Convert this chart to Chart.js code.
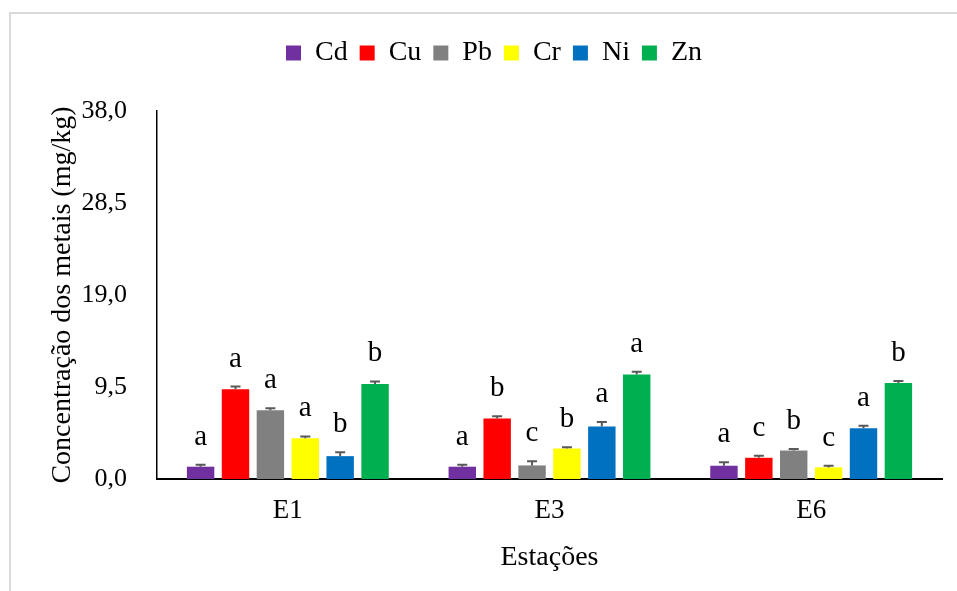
<!DOCTYPE html>
<html>
<head>
<meta charset="utf-8">
<script src="https://cdn.jsdelivr.net/npm/chart.js@4.4.0/dist/chart.umd.min.js"></script>
<style>
  body { margin: 0; background: #fff; overflow: hidden; }
  #frame { position: absolute; left: 9px; top: 12px; width: 1000px; height: 650px; border: 2px solid #d9d9d9; box-sizing: border-box; }
  #wrap { position: absolute; left: 0; top: 0; width: 957px; height: 591px; }
</style>
</head>
<body>
<div id="frame"></div>
<div id="wrap"><canvas id="myChart"></canvas></div>
<script>
const stations = ['E1', 'E3', 'E6'];
const metals = ['Cd', 'Cu', 'Pb', 'Cr', 'Ni', 'Zn'];
const colors = ['#7030A0', '#FF0000', '#808080', '#FFFF00', '#0070C0', '#00B050'];

// mean concentration per station (mg/kg)
const cd = [1.27, 1.27, 1.37];
const cu = [9.27, 6.25, 2.19];
const pb = [7.11, 1.40, 2.94];
const cr = [4.20, 3.15, 1.20];
const ni = [2.36, 5.43, 5.23];
const zn = [9.81, 10.80, 9.91];

// upper error (standard deviation)
const cdErr = [0.20, 0.20, 0.37];
const cuErr = [0.27, 0.24, 0.20];
const pbErr = [0.20, 0.44, 0.17];
const crErr = [0.20, 0.14, 0.17];
const niErr = [0.40, 0.45, 0.27];
const znErr = [0.27, 0.27, 0.20];

// significance letters
const cdLet = ['a', 'a', 'a'];
const cuLet = ['a', 'b', 'c'];
const pbLet = ['a', 'c', 'b'];
const crLet = ['a', 'b', 'c'];
const niLet = ['b', 'a', 'a'];
const znLet = ['b', 'a', 'b'];

const yTicks = [0, 9.5, 19, 28.5, 38];

const values = [cd, cu, pb, cr, ni, zn];
const errors = [cdErr, cuErr, pbErr, crErr, niErr, znErr];
const letters = [cdLet, cuLet, pbLet, crLet, niLet, znLet];

const serif = "'Liberation Serif', 'Times New Roman', serif";

const errorBars = {
  id: 'errorBars',
  afterDatasetsDraw(chart) {
    const ctx = chart.ctx;
    const y = chart.scales.y;
    ctx.save();
    ctx.strokeStyle = '#595959';
    ctx.lineWidth = 2;
    ctx.fillStyle = '#000';
    ctx.font = '29px ' + serif;
    ctx.textAlign = 'center';
    ctx.textBaseline = 'alphabetic';
    chart.data.datasets.forEach((ds, i) => {
      const meta = chart.getDatasetMeta(i);
      meta.data.forEach((bar, j) => {
        const top = y.getPixelForValue(ds.data[j]);
        const errTop = y.getPixelForValue(ds.data[j] + errors[i][j]);
        ctx.beginPath();
        ctx.moveTo(bar.x, top);
        ctx.lineTo(bar.x, errTop);
        ctx.moveTo(bar.x - 5, errTop);
        ctx.lineTo(bar.x + 5, errTop);
        ctx.stroke();
        ctx.fillText(letters[i][j], bar.x, errTop - 20);
      });
    });
    ctx.restore();
  }
};

const legendGap = {
  id: 'legendGap',
  beforeInit(chart) {
    const fit = chart.legend.fit;
    chart.legend.fit = function () {
      fit.bind(chart.legend)();
      this.height += 34;
    };
  }
};

const ctx = document.getElementById('myChart').getContext('2d');
const myChart = new Chart(ctx, {
  type: 'bar',
  data: {
    labels: stations,
    datasets: metals.map((m, i) => ({
      label: m,
      data: values[i],
      backgroundColor: colors[i],
      borderWidth: 0,
      categoryPercentage: 0.80,
      barPercentage: 0.786
    }))
  },
  options: {
    responsive: true,
    maintainAspectRatio: false,
    animation: false,
    layout: { padding: { left: 46, right: 15, top: 27, bottom: 0 } },
    plugins: {
      legend: {
        position: 'top',
        labels: {
          boxWidth: 15,
          boxHeight: 15,
          padding: 12,
          color: '#000',
          font: { family: serif, size: 28 }
        }
      },
      tooltip: { enabled: false }
    },
    scales: {
      x: {
        grid: { display: false },
        border: { display: true, color: '#000', width: 2 },
        ticks: { color: '#000', padding: 8, font: { family: serif, size: 27 } },
        title: { display: true, text: 'Estações', color: '#000', padding: { top: 4, bottom: 17 }, font: { family: serif, size: 28 } },
        afterFit(scale) { scale.height = 112; }
      },
      y: {
        min: 0,
        max: 38,
        grid: { display: false },
        border: { display: true, color: '#000', width: 1.5 },
        afterBuildTicks(scale) { scale.ticks = yTicks.map(v => ({ value: v })); },
        ticks: {
          color: '#000',
          padding: 22,
          font: { family: serif, size: 26 },
          callback: v => v.toFixed(1).replace('.', ',')
        },
        title: { display: true, text: 'Concentração dos metais (mg/kg)', color: '#000', padding: 0, font: { family: serif, size: 28 } },
        afterFit(scale) { scale.width = 111; }
      }
    }
  },
  plugins: [errorBars, legendGap]
});
</script>
</body>
</html>
